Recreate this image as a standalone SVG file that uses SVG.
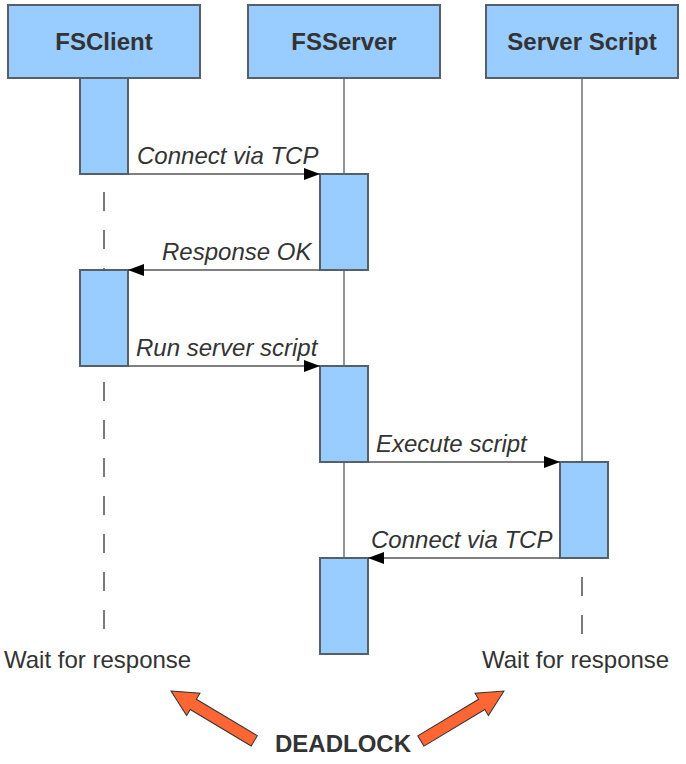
<svg xmlns="http://www.w3.org/2000/svg" width="686" height="764" viewBox="0 0 686 764">
<defs>
<marker id="ah" markerWidth="16" markerHeight="12" refX="16" refY="6" orient="auto" markerUnits="userSpaceOnUse">
<path d="M0,0 L16,6 L0,12 Z" fill="#000"/>
</marker>
<style>
.box{fill:#99ccff;stroke:#56606a;stroke-width:2}
.title{font-family:"Liberation Sans",Arial,sans-serif;font-weight:bold;font-size:24px;fill:#333;text-anchor:middle}
.lbl{font-family:"Liberation Sans",Arial,sans-serif;font-style:italic;font-size:24px;fill:#333}
.txt{font-family:"Liberation Sans",Arial,sans-serif;font-size:24px;fill:#333}
.life{stroke:#6f6f6f;stroke-width:1.5;fill:none}
.dash{stroke:#7a7a7a;stroke-width:2;stroke-dasharray:19 19;fill:none}
.msg{stroke:#555;stroke-width:1.5;fill:none;marker-end:url(#ah)}
.big{fill:#ff6633;stroke:#333;stroke-width:1}
</style>
</defs>
<rect width="686" height="764" fill="#fff"/>
<g id="lifelines">
<line class="life" x1="344" y1="78" x2="344" y2="558"/>
<line class="life" x1="582" y1="78" x2="582" y2="462" stroke="#333"/>
<line class="dash" x1="104" y1="192" x2="104" y2="636"/>
<line class="dash" x1="582" y1="577" x2="582" y2="636"/>
</g>
<g id="FSClient">
<rect class="box" x="8" y="5" width="192" height="73"/>
<text class="title" x="104" y="50">FSClient</text>
</g>
<g id="FSServer">
<rect class="box" x="248" y="5" width="192" height="73"/>
<text class="title" x="344" y="50">FSServer</text>
</g>
<g id="ServerScript">
<rect class="box" x="486" y="5" width="192" height="73"/>
<text class="title" x="582" y="50">Server Script</text>
</g>
<g id="activations">
<rect class="box" x="80" y="78" width="48" height="96"/>
<rect class="box" x="320" y="174" width="48" height="96"/>
<rect class="box" x="80" y="270" width="48" height="96"/>
<rect class="box" x="320" y="366" width="48" height="96"/>
<rect class="box" x="560" y="462" width="48" height="96"/>
<rect class="box" x="320" y="558" width="48" height="96"/>
</g>
<g id="connectors">
<line class="msg" x1="128" y1="174" x2="320" y2="174"/>
<line class="msg" x1="320" y1="270" x2="128" y2="270"/>
<line class="msg" x1="128" y1="366" x2="320" y2="366"/>
<line class="msg" x1="368" y1="462" x2="560" y2="462"/>
<line class="msg" x1="560" y1="558" x2="368" y2="558"/>
<text class="lbl" x="137" y="164">Connect via TCP</text>
<text class="lbl" x="162" y="260">Response OK</text>
<text class="lbl" x="136" y="356">Run server script</text>
<text class="lbl" x="376" y="452">Execute script</text>
<text class="lbl" x="371" y="548">Connect via TCP</text>
</g>
<g id="notes">
<text class="txt" x="4" y="668">Wait for response</text>
<text class="txt" x="482" y="668">Wait for response</text>
<text class="title" x="343" y="752">DEADLOCK</text>
<polygon class="big" transform="translate(171,691) rotate(30.9)" points="0,0 26,-13 26,-6 97,-6 97,6 26,6 26,13"/>
<polygon class="big" transform="translate(504,691) rotate(149)" points="0,0 26,-13 26,-6 97,-6 97,6 26,6 26,13"/>
</g>
</svg>
